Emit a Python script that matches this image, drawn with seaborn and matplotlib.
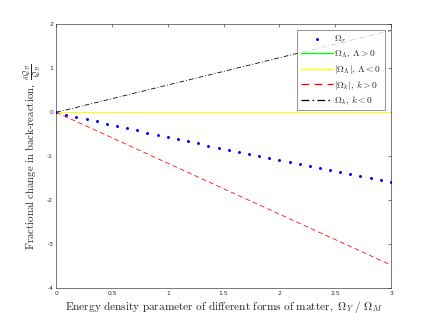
import seaborn as sns
import matplotlib.pyplot as plt
import pandas as pd

# data
x_r = [0.0, 0.091, 0.182, 0.273, 0.364, 0.455, 0.545, 0.636, 0.727, 0.818, 0.909,
       1.0, 1.091, 1.182, 1.273, 1.364, 1.455, 1.545, 1.636, 1.727, 1.818, 1.909,
       2.0, 2.091, 2.182, 2.273, 2.364, 2.455, 2.545, 2.636, 2.727, 2.818, 2.909, 3.0]
y_r = [0.0, -0.052, -0.104, -0.156, -0.207, -0.258, -0.309, -0.359, -0.410, -0.460, -0.510,
       -0.559, -0.608, -0.657, -0.706, -0.755, -0.803, -0.850, -0.898, -0.945, -0.993, -1.039,
       -1.086, -1.132, -1.178, -1.224, -1.270, -1.315, -1.360, -1.405, -1.449, -1.493, -1.537, -1.581]

x_line = [0.0, 3.0]
y_lam_pos = [0.0, 0.0]
y_lam_neg = [0.0, 0.0]
y_k_pos = [0.0, -3.47]
y_k_neg = [0.0, 1.86]

sns.set_style('white')
plt.rcParams['mathtext.fontset'] = 'cm'
plt.rcParams['font.family'] = ['DejaVu Sans']

fig = plt.figure(figsize=(6, 4.5), dpi=72)
ax = fig.add_axes([0.13, 0.11, 0.775, 0.815])

sns.scatterplot(x=x_r, y=y_r, color='#0000ff', s=9, marker='o', linewidth=0,
                label=r'$\Omega_r$', ax=ax, zorder=3)
sns.lineplot(x=x_line, y=y_lam_pos, color='#00ff00', lw=1.0,
             label=r'$\Omega_\Lambda,\, \Lambda>0$', ax=ax)
sns.lineplot(x=x_line, y=y_lam_neg, color='#ffff00', lw=1.0,
             label=r'$|\Omega_\Lambda|,\, \Lambda<0$', ax=ax)
sns.lineplot(x=x_line, y=y_k_pos, color='#ff0000', lw=0.8, linestyle=(0, (6, 4)),
             label=r'$|\Omega_k|,\, k>0$', ax=ax)
sns.lineplot(x=x_line, y=y_k_neg, color='black', lw=0.8, linestyle=(0, (6, 2.5, 1.2, 2.5)),
             label=r'$\Omega_k,\, k<0$', ax=ax)

ax.set_xlim(0, 3)
ax.set_ylim(-4, 2)
ax.set_xticks([0, 0.5, 1, 1.5, 2, 2.5, 3])
ax.set_xticklabels(['0', '0.5', '1', '1.5', '2', '2.5', '3'])
ax.set_yticks([-4, -3, -2, -1, 0, 1, 2])
ax.set_yticklabels(['-4', '-3', '-2', '-1', '0', '1', '2'])
ax.tick_params(direction='in', length=3, width=0.6, labelsize=6, colors='#262626',
               top=True, right=True, pad=3)
for sp in ax.spines.values():
    sp.set_color('#262626')
    sp.set_linewidth(0.6)

ax.set_xlabel(r'$\mathrm{Energy\ density\ parameter\ of\ different\ forms\ of\ matter,}\ \Omega_Y\ /\ \Omega_M$',
              fontsize=11.3, color='#262626', labelpad=3)
ax.set_ylabel(r'$\mathrm{Fractional\ change\ in\ back\text{-}reaction,}\ \frac{\delta\mathcal{Q}_\mathcal{D}}{\mathcal{Q}_\mathcal{D}}$',
              fontsize=10.8, color='#262626', labelpad=4)

leg = ax.legend(loc='upper right', fontsize=9.5, frameon=True, fancybox=False,
                borderaxespad=0.65, handlelength=3.4, handletextpad=0.15,
                labelspacing=0.3, borderpad=0.35, markerscale=1.0)
leg.get_frame().set_edgecolor('#262626')
leg.get_frame().set_linewidth(0.6)
for h in leg.legend_handles[1:]:
    h.set_linewidth(1.3)

fig.savefig('out.png', dpi=72)
